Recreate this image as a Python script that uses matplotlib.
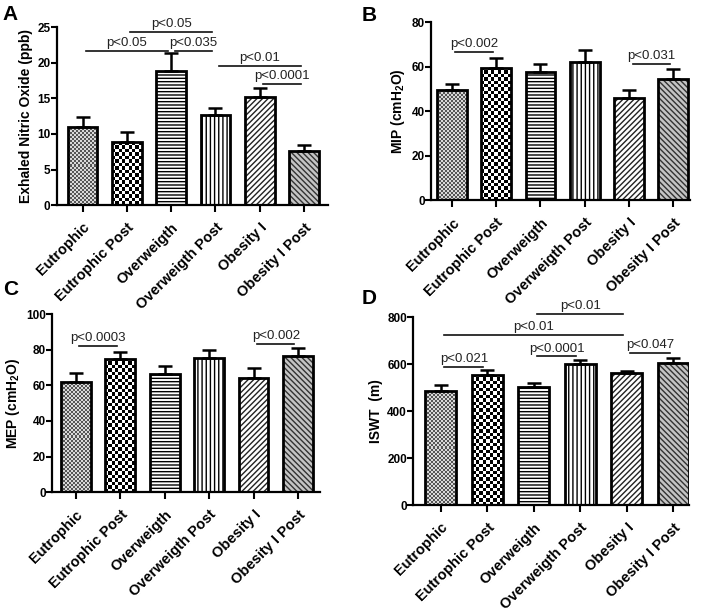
import matplotlib.pyplot as plt
import numpy as np
from matplotlib.colors import ListedColormap

plt.rcParams['font.family'] = ['Liberation Sans', 'DejaVu Sans']
plt.rcParams['mathtext.fontset'] = 'custom'
plt.rcParams['mathtext.rm'] = 'Liberation Sans:bold'
plt.rcParams['mathtext.it'] = 'Liberation Sans:bold'
plt.rcParams['mathtext.bf'] = 'Liberation Sans:bold'
plt.rcParams['hatch.linewidth'] = 1.0

# Данные
groups = ['Eutrophic', 'Eutrophic Post', 'Overweigth', 'Overweigth Post',
          'Obesity I', 'Obesity I Post']

eno_mean = [11.0, 8.8, 18.8, 12.6, 15.15, 7.6]
eno_err = [1.4, 1.5, 2.5, 1.1, 1.25, 0.8]
mip_mean = [49.3, 59.6, 57.7, 62.2, 46.1, 54.4]
mip_err = [3.0, 4.2, 3.7, 5.4, 3.5, 4.5]
mep_mean = [61.9, 74.9, 66.2, 75.6, 64.0, 76.4]
mep_err = [4.9, 3.9, 4.5, 4.1, 5.6, 4.8]
iswt_mean = [486, 556, 501, 599, 563, 607]
iswt_err = [27, 18, 21, 19, 9, 21]

# значимость: (группа 1, группа 2, уровень линии, подпись)
eno_sig = [(0, 2, 21.7, 'p<0.05'), (2, 3, 21.7, 'p<0.035'), (1, 3, 24.3, 'p<0.05'),
           (3, 5, 19.5, 'p<0.01'), (4, 5, 17.0, 'p<0.0001')]
mip_sig = [(0, 1, 66.5, 'p<0.002'), (4, 5, 61.1, 'p<0.031')]
mep_sig = [(0, 1, 82.2, 'p<0.0003'), (4, 5, 83.5, 'p<0.002')]
iswt_sig = [(0, 1, 590, 'p<0.021'), (2, 3, 633, 'p<0.0001'), (4, 5, 647, 'p<0.047'),
            (0, 4, 723, 'p<0.01'), (2, 4, 814, 'p<0.01')]

# стиль заливки для каждой группы
styles = [
    {'checker': ('#555555', '#d8d8d8', 2.0)},
    {'checker': ('black', 'white', 3.4)},
    {'face': 'white', 'hatch': '-----', 'hc': 'black'},
    {'face': 'white', 'hatch': '||||', 'hc': 'black'},
    {'face': 'white', 'hatch': '//////', 'hc': '#222222'},
    {'face': '#c4c4c4', 'hatch': '\\\\\\\\\\\\', 'hc': '#333333'},
]

fig = plt.figure(figsize=(7.1, 6.16), dpi=100)


def panel(rect, means, errs, sig, ylabel, ylim, yticks, xlim):
    ax = fig.add_axes(rect)
    x = np.arange(len(groups))
    ax.set_xlim(*xlim)
    ax.set_ylim(*ylim)
    for i, st in enumerate(styles):
        if 'checker' in st:
            c1, c2, cell = st['checker']
            b = ax.bar(x[i], means[i], width=0.67, color='none', linewidth=0)[0]
            x0, w, h = b.get_x(), b.get_width(), b.get_height()
            (p0x, p0y), (p1x, p1y) = ax.transData.transform([(x0, 0), (x0 + w, h)])
            nx = max(1, int(round((p1x - p0x) / cell)))
            ny = max(1, int(round((p1y - p0y) / cell)))
            grid = np.add.outer(np.arange(ny), np.arange(nx)) % 2
            im = ax.imshow(grid, extent=(x0, x0 + w, 0, h), cmap=ListedColormap([c1, c2]),
                           interpolation='nearest', aspect='auto', zorder=1)
            im.set_clip_path(b)
        else:
            ax.bar(x[i], means[i], width=0.67, color=st['face'], hatch=st['hatch'],
                   edgecolor=st['hc'], linewidth=0, zorder=1)
    ax.bar(x, means, width=0.67, fill=False, edgecolor='black', linewidth=2.0, zorder=2)
    ax.errorbar(x, means, yerr=[np.zeros(len(errs)), errs], fmt='none', ecolor='black',
                elinewidth=1.8, capsize=5, capthick=1.8, zorder=3)

    ax.set_xlim(*xlim)
    ax.set_ylim(*ylim)
    ax.set_yticks(yticks)
    ax.set_xticks(x)
    ax.set_xticklabels(groups, rotation=45, ha='right', va='top', rotation_mode='anchor',
                       fontsize=10.5, fontweight='bold')
    for lab in ax.get_yticklabels():
        lab.set_fontweight('bold')
        lab.set_fontsize(8.5)
    ax.set_ylabel(ylabel, fontsize=10, fontweight='bold', labelpad=3)
    ax.spines['top'].set_visible(False)
    ax.spines['right'].set_visible(False)
    ax.spines['left'].set_linewidth(1.6)
    ax.spines['bottom'].set_linewidth(1.6)
    ax.tick_params(axis='both', width=1.5)
    ax.tick_params(axis='y', pad=0.5, length=4)
    ax.tick_params(axis='x', pad=6, length=5)

    span = ylim[1] - ylim[0]
    for i, j, yv, txt in sig:
        ax.plot([i + 0.08, j - 0.08], [yv, yv], color='#111111', lw=1.2, clip_on=False)
        ax.text((i + j) / 2, yv + span * 0.01, txt, ha='center', va='bottom',
                fontsize=9.5, color='#222222', clip_on=False)
    return ax


panel([0.080, 0.667, 0.382, 0.289], eno_mean, eno_err, eno_sig,
      'Exhaled Nitric Oxide (ppb)', (0, 25), [0, 5, 10, 15, 20, 25], (-0.58, 5.54))
panel([0.607, 0.675, 0.365, 0.289], mip_mean, mip_err, mip_sig,
      'MIP (cmH$_2$O)', (0, 80), [0, 20, 40, 60, 80], (-0.47, 5.38))
panel([0.0735, 0.201, 0.3775, 0.289], mep_mean, mep_err, mep_sig,
      'MEP (cmH$_2$O)', (0, 100), [0, 20, 40, 60, 80, 100], (-0.53, 5.5))
panel([0.582, 0.180, 0.3885, 0.305], iswt_mean, iswt_err, iswt_sig,
      'ISWT  (m)', (0, 800), [0, 200, 400, 600, 800], (-0.59, 5.34))

for lx, ly, letter in [(0.004, 0.992, 'A'), (0.510, 0.990, 'B'),
                       (0.004, 0.545, 'C'), (0.510, 0.531, 'D')]:
    fig.text(lx, ly, letter, fontsize=15, fontweight='bold', va='top', ha='left')

fig.savefig('out.png', dpi=100)
